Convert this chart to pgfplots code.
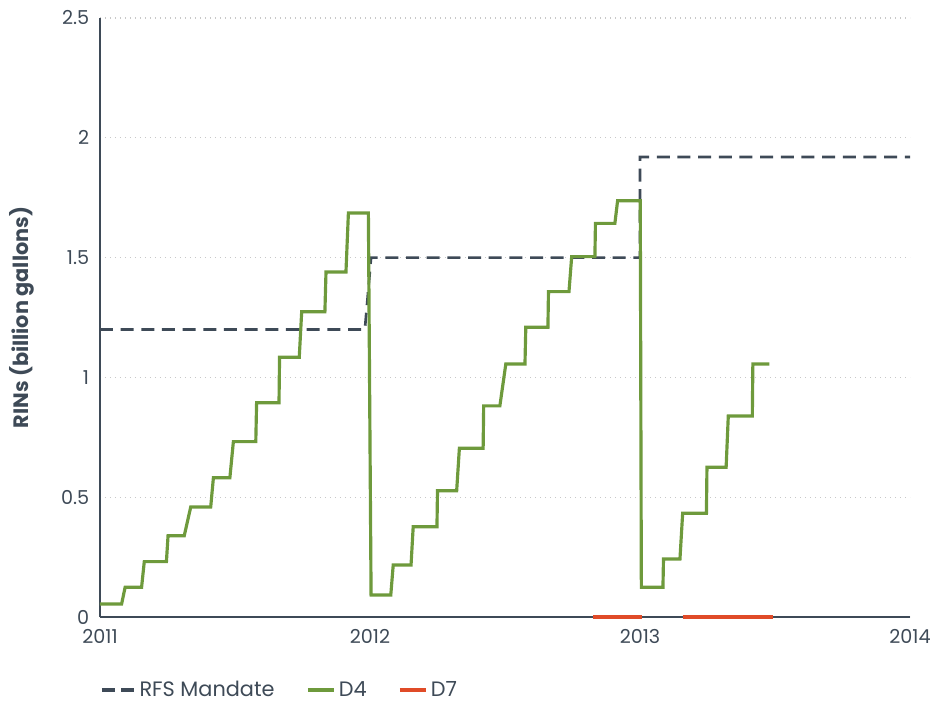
\documentclass[border=0pt]{standalone}
\usepackage{pgfplots}
\pgfplotsset{compat=1.18}
\usepackage{fontspec}
\setmainfont{Poppins}
\definecolor{slate}{HTML}{3E4A57}
\definecolor{dfour}{HTML}{6E9A3C}
\definecolor{dseven}{HTML}{E04B28}
\definecolor{gridc}{HTML}{C8C8C8}
\begin{document}
\begin{tikzpicture}
\begin{axis}[
  scale only axis,
  width=486pt, height=359.4pt,
  xmin=2011, xmax=2014, ymin=0, ymax=2.5,
  xtick={2011,2012,2013,2014},
  ytick={0,0.5,1,1.5,2,2.5},
  yticklabels={0,0.5,1,1.5,2,2.5},
  xticklabels={2011,2012,2013,2014},
  axis lines*=left,
  axis line style={slate, line width=0.9pt},
  major tick length=0pt,
  tick label style={font=\fontsize{11.5}{13}\selectfont, text=slate},
  xticklabel style={yshift=-4pt},
  yticklabel style={xshift=-3pt},
  ymajorgrids,
  grid style={gridc, line width=0.7pt, dash pattern=on 0.7pt off 2.3pt},
  ylabel={\bfseries RINs (billion gallons)},
  ylabel style={font=\fontsize{12.5}{14}\selectfont, text=slate,
    at={(axis description cs:-0.096,0.5)}, anchor=center},
  legend columns=-1,
  legend style={draw=none, at={(0,-0.122)}, anchor=west, inner xsep=0pt,
    font=\fontsize{12.5}{14}\selectfont, text=slate,
    /tikz/every even column/.append style={column sep=17pt}},
  legend image code/.code={\draw[#1] (0cm,0cm) -- (0.55cm,0cm);},
  clip=false,
]
\addplot[slate, line width=1.6pt, dash pattern=on 7.8pt off 4.6pt,
  legend image code/.code={\draw[slate, line width=1.9pt, dash pattern=on 8pt off 3.5pt] (0cm,0cm) -- (0.69cm,0cm);}]
coordinates {
  (2011.000,1.2) (2011.981,1.2) (2012.004,1.5) (2013.000,1.5) (2013.000,1.92) (2014.000,1.92)
};
\addlegendentry{RFS Mandate}
\addplot[dfour, line width=1.9pt] coordinates {
  (2011.000,0.054) (2011.080,0.054) (2011.093,0.124) (2011.154,0.124)
  (2011.164,0.231) (2011.246,0.231) (2011.252,0.339) (2011.312,0.339)
  (2011.336,0.459) (2011.410,0.459) (2011.420,0.581) (2011.481,0.581)
  (2011.494,0.732) (2011.577,0.732) (2011.580,0.894) (2011.663,0.894)
  (2011.665,1.084) (2011.738,1.084) (2011.747,1.274) (2011.833,1.274)
  (2011.837,1.440) (2011.911,1.440) (2011.920,1.686) (2011.994,1.686)
  (2012.004,0.092) (2012.077,0.092) (2012.086,0.217) (2012.152,0.217)
  (2012.160,0.377) (2012.248,0.377) (2012.250,0.527) (2012.321,0.527)
  (2012.331,0.704) (2012.419,0.704) (2012.421,0.881) (2012.481,0.881)
  (2012.503,1.056) (2012.574,1.056) (2012.577,1.209) (2012.659,1.209)
  (2012.661,1.358) (2012.737,1.358) (2012.747,1.504) (2012.833,1.504)
  (2012.835,1.643) (2012.907,1.643) (2012.917,1.737) (2013.001,1.737)
  (2013.005,0.124) (2013.085,0.124) (2013.087,0.242) (2013.148,0.242)
  (2013.158,0.433) (2013.246,0.433) (2013.248,0.625) (2013.319,0.625)
  (2013.327,0.839) (2013.416,0.839) (2013.418,1.056) (2013.479,1.056)
};
\addlegendentry{D4}
\addplot[dseven, line width=1.9pt, unbounded coords=jump] coordinates {
  (2012.827,0) (2013.006,0) (2013.080,nan) (2013.158,0) (2013.491,0)
};
\addlegendentry{D7}
\end{axis}
% page margins around the axis box, as in the reference
\path (current axis.south west) ++(-60pt,-52.8pt);
\path (current axis.north east) ++(19.2pt,10.8pt);
\end{tikzpicture}
\end{document}
